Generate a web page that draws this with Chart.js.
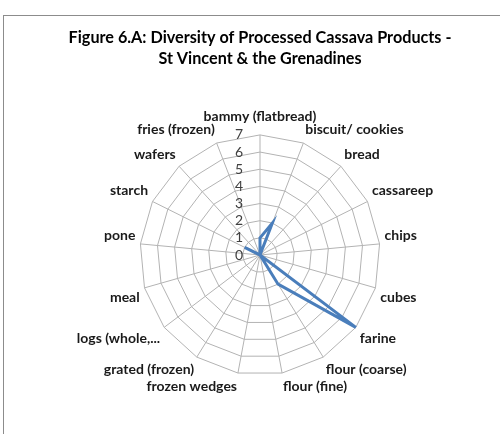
<!DOCTYPE html>
<html>
<head>
<meta charset="utf-8">
<script src="https://cdn.jsdelivr.net/npm/chart.js@4/dist/chart.umd.min.js"></script>
<style>
  html, body { margin: 0; padding: 0; background: #fff; }
  #frame {
    position: absolute; left: 3px; top: 15px;
    width: 520px; height: 440px;
    border: 1px solid #8c8c8c; background: #fff;
  }
  #wrap { position: absolute; left: 1px; top: 0; width: 510px; height: 430px; }
</style>
</head>
<body>
<div id="frame"><div id="wrap"><canvas id="chart"></canvas></div></div>
<script>
// categories (spokes, clockwise from top)
const products = [
  "bammy (flatbread)", "biscuit/ cookies", "bread", "cassareep", "chips",
  "cubes", "farine", "flour (coarse)", "flour (fine)", "frozen wedges",
  "grated (frozen)", "logs (whole,...", "meal", "pone", "starch",
  "wafers", "fries (frozen)"
];
// number of processors per product
const counts = [1, 2, 0, 0, 0, 0, 7, 2, 0, 0, 0, 0, 0, 0, 1, 0, 0];
const tickValues = [0, 1, 2, 3, 4, 5, 6, 7];
const titleLines = [
  "Figure 6.A: Diversity of Processed Cassava Products -",
  "St Vincent & the Grenadines"
];

// Excel-style tick labels, left of the vertical spoke
const leftTicks = {
  id: "leftTicks",
  afterDatasetsDraw(chart) {
    const scale = chart.scales.r;
    const ctx = chart.ctx;
    ctx.save();
    ctx.font = "14px Lato";
    ctx.fillStyle = "#404040";
    ctx.textAlign = "right";
    ctx.textBaseline = "middle";
    tickValues.forEach((v) => {
      const d = scale.getDistanceFromCenterForValue(v);
      ctx.fillText(String(v), scale.xCenter - 17, scale.yCenter - d);
    });
    ctx.restore();
  }
};

new Chart(document.getElementById("chart"), {
  type: "radar",
  data: {
    labels: products,
    datasets: [{
      data: counts,
      borderColor: "#4a7ebb",
      borderWidth: 3,
      backgroundColor: "rgba(0,0,0,0)",
      fill: false,
      pointRadius: 0,
      pointHoverRadius: 0,
      tension: 0
    }]
  },
  options: {
    responsive: true,
    maintainAspectRatio: false,
    animation: false,
    layout: { padding: { top: 4, bottom: 47, left: 0, right: 0 } },
    plugins: {
      legend: { display: false },
      tooltip: { enabled: false },
      title: {
        display: true,
        text: titleLines,
        color: "#000",
        font: { family: "Lato", size: 16.2, weight: "bold", lineHeight: 1.3 },
        padding: { top: 7, bottom: 36 }
      }
    },
    scales: {
      r: {
        min: 0,
        max: 7,
        ticks: { stepSize: 1, display: false },
        grid: { color: "#b3b3b3", lineWidth: 1 },
        angleLines: { color: "#b3b3b3", lineWidth: 1 },
        pointLabels: {
          color: "#1a1a1a",
          font: { family: "Lato", size: 14, weight: "bold" },
          padding: (c) => (c.index === 0 ? 10 : 5)
        }
      }
    }
  },
  plugins: [leftTicks]
});
</script>
</body>
</html>
